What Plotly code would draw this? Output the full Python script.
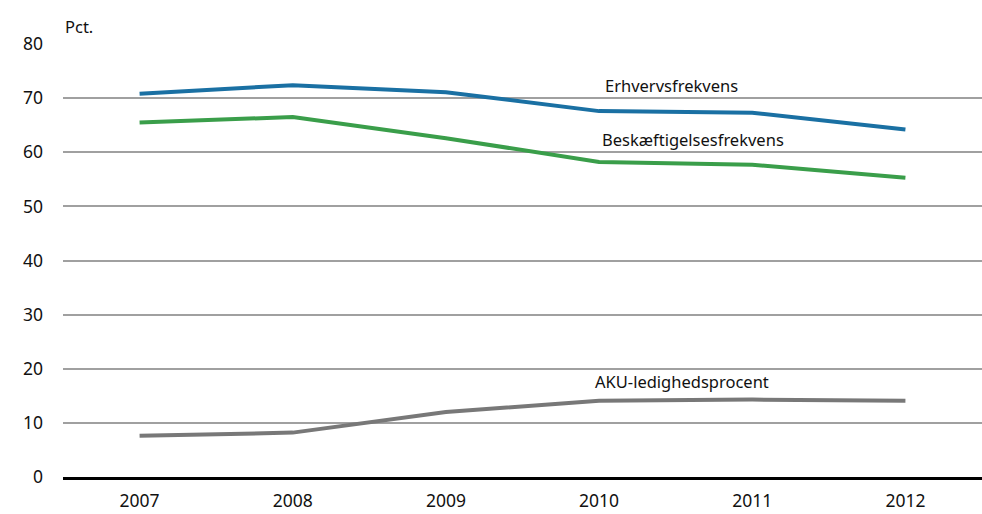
import plotly.graph_objects as go

years = ["2007", "2008", "2009", "2010", "2011", "2012"]
erhverv = [70.8, 72.4, 71.1, 67.6, 67.3, 64.2]
beskaeft = [65.5, 66.5, 62.6, 58.2, 57.7, 55.3]
aku = [7.6, 8.2, 12.0, 14.1, 14.3, 14.1]
series_names = ["Erhvervsfrekvens", "Beskæftigelsesfrekvens", "AKU-ledighedsprocent"]
colors = ["#1a70a3", "#3a9e4a", "#787878"]
y_ticks = [0, 10, 20, 30, 40, 50, 60, 70, 80]

FONT = "Noto Sans"
fig = go.Figure()
for vals, name, col in zip([erhverv, beskaeft, aku], series_names, colors):
    fig.add_trace(go.Scatter(x=years, y=vals, mode="lines", name=name,
                             line=dict(color=col, width=4), showlegend=False))

# series labels (x as category index position, y in data units)
label_pos = [(3.476, 72.4), (3.613, 62.4), (3.54, 17.6)]
for name, (xx, yy) in zip(series_names, label_pos):
    fig.add_annotation(x=xx, y=yy, xref="x", yref="y", text=name, showarrow=False,
                       font=dict(family=FONT, size=16.5, color="#111111"))

fig.add_annotation(xref="paper", yref="paper", x=0, y=1, xshift=0, yshift=18,
                   text="Pct.", showarrow=False, xanchor="left", yanchor="middle",
                   font=dict(family=FONT, size=16.5, color="#111111"))

fig.update_layout(
    width=982, height=514,
    margin=dict(l=63, r=0, t=44, b=37),
    plot_bgcolor="white", paper_bgcolor="white",
    font=dict(family=FONT, size=17.5, color="#111111"),
    xaxis=dict(type="category", range=[-0.5, 5.5], showgrid=False,
               showline=True, linecolor="black", linewidth=2.5,
               ticks="", tickfont=dict(size=17.5), zeroline=False,
               ticklabelstandoff=6),
    yaxis=dict(range=[0, 80], tickvals=y_ticks, showgrid=True,
               gridcolor="#a0a0a0", gridwidth=1.5, zeroline=False,
               showline=False, ticks="", ticklabelstandoff=19,
               tickfont=dict(size=17.5)),
)
fig.write_html("out.html", config={"displayModeBar": False},
               post_script="document.body.style.margin='0';document.body.style.overflow='hidden';")
